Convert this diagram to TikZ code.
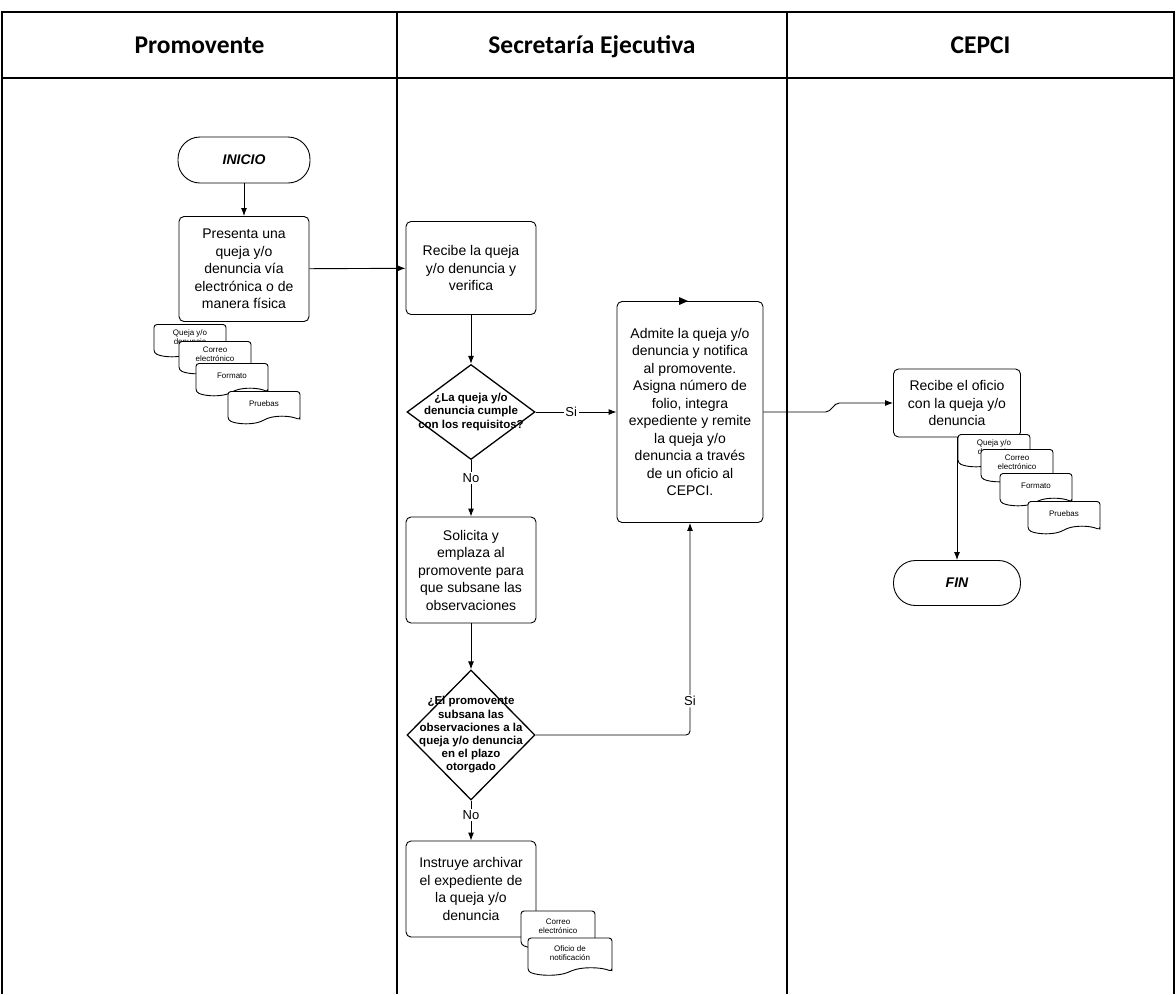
\documentclass[tikz,border=0pt]{standalone}
\usepackage{fontspec}
\setmainfont{Liberation Sans}
\newfontfamily\headfont{Carlito}
\usetikzlibrary{shapes.geometric, shapes.symbols, arrows.meta, positioning}
\tikzstyle{lane} = [draw, line width=1.2pt]
\tikzstyle{header} = [anchor=base, font=\headfont\bfseries\fontsize{25.5}{28}\selectfont]
\tikzstyle{terminal} = [rectangle, rounded corners=22pt, draw, line width=0.9pt, minimum width=132pt, minimum height=46pt, font=\bfseries\itshape\fontsize{14}{16}\selectfont]
\tikzstyle{process} = [rectangle, rounded corners=5pt, draw, line width=0.9pt, minimum width=130pt, align=center, font=\fontsize{14}{17.5}\selectfont]
\tikzstyle{decision} = [diamond, draw, line width=1.3pt, minimum width=128pt, minimum height=95pt, inner sep=0pt]
\tikzstyle{dtext} = [align=center, inner sep=0pt, font=\bfseries\fontsize{11.5}{13.2}\selectfont]
\tikzstyle{docu} = [tape, draw, fill=white, line width=0.9pt, rounded corners=3pt, tape bend top=none, tape bend bottom=in and out, tape bend height=7pt, minimum width=72pt, minimum height=32pt, inner sep=1pt, align=center, font=\fontsize{8}{9}\selectfont]
\tikzstyle{answer} = [fill=white, inner sep=1.5pt, font=\fontsize{13}{15}\selectfont]
\tikzstyle{arrow} = [line width=0.9pt, -{Latex[length=8pt,width=6pt]}]

\begin{document}
\begin{tikzpicture}[x=1pt, y=-1pt]
    \useasboundingbox (0,0) rectangle (1176,994);

            % Lanes
            \draw [lane] (2,994) -- (2,12) -- (1174,12) -- (1174,994);
            \draw [lane] (2,78) -- (1174,78);
            \draw [lane] (397,12) -- (397,994);
            \draw [lane] (787,12) -- (787,994);
            \node (hpromo) [header] at (199.5,53) {Promovente};
            \node (hsecre) [header] at (592,53) {Secretaría Ejecutiva};
            \node (hcepci) [header] at (980.5,53) {CEPCI};

            % Nodes
            \node (inicio) [terminal] at (244,160) {INICIO};
            \node (presenta) [process, minimum height=105pt] at (244,269) {Presenta una\\queja y/o\\denuncia vía\\electrónica o de\\manera física};

            \node (recibe) [process, minimum height=93pt] at (471,268) {Recibe la queja\\y/o denuncia y\\verifica};
            \node (q1) [decision, label={[dtext]center:{¿La queja y/o\\denuncia cumple\\con los requisitos?}}] at (471,412) {};
            \node (solicita) [process, minimum height=106pt] at (471,570) {Solicita y\\emplaza al\\promovente para\\que subsane las\\observaciones};
            \node (q2) [decision, minimum height=130pt, label={[dtext]center:{¿El promovente\\subsana las\\observaciones a la\\queja y/o denuncia\\en el plazo\\otorgado}}] at (471,735) {};
            \node (instruye) [process, minimum height=96pt] at (471,889) {Instruye archivar\\el expediente de\\la queja y/o\\denuncia};
            \node (admite) [process, minimum width=146pt, minimum height=221pt] at (690,412) {Admite la queja y/o\\denuncia y notifica\\al promovente.\\Asigna número de\\folio, integra\\expediente y remite\\la queja y/o\\denuncia a través\\de un oficio al\\CEPCI.};

            \node (oficio) [process, minimum width=127pt, minimum height=68pt] at (957,403) {Recibe el oficio\\con la queja y/o\\denuncia};
            \node (fin) [terminal, minimum width=127pt, minimum height=45pt] at (957,583) {FIN};

            % Arrows
            \draw [arrow] (inicio) -- (presenta);
            \draw [arrow] (presenta) -- (recibe);
            \draw [arrow] (recibe) -- (q1);
            \draw [arrow] (q1) -- node[answer, pos=0.44] {Si} (admite);
            \draw [arrow] (q1) -- node[answer, pos=0.32] {No} (solicita);
            \draw [arrow] (solicita) -- (q2);
            \draw [arrow, rounded corners=4pt] (q2.east) -| node[answer, pos=0.58] {Si} (admite.south);
            \draw [arrow] (q2) -- node[answer, pos=0.37] {No} (instruye);
            \draw [arrow] (admite.east) -- ++(62,0) to[out=0, in=180] ++(14,-9) -- (oficio.west);
            \draw [arrow] (oficio) -- (fin);
            \fill ([xshift=-11pt, yshift=4pt]admite.north) -- ([xshift=-2pt]admite.north) -- ([xshift=-11pt, yshift=-4pt]admite.north) -- cycle;

            % Documents
            \node (pd1) [docu] at (190,337) {Queja y/o\\denuncia};
            \node (pd2) [docu] at (215,354) {Correo\\electrónico};
            \node (pd3) [docu] at (232,376) {Formato};
            \node (pd4) [docu] at (264,404) {Pruebas};

            \node (cd1) [docu] at (994,447) {Queja y/o\\denuncia};
            \node (cd2) [docu] at (1017,462) {Correo\\electrónico};
            \node (cd3) [docu] at (1036,486) {Formato};
            \node (cd4) [docu] at (1064,514) {Pruebas};

            \node (id1) [docu, minimum width=74pt, minimum height=37pt] at (558,926) {Correo\\electrónico};
            \node (id2) [docu, minimum width=84pt, minimum height=37pt] at (570,953) {Oficio de\\notificación};

        \end{tikzpicture}
\end{document}
